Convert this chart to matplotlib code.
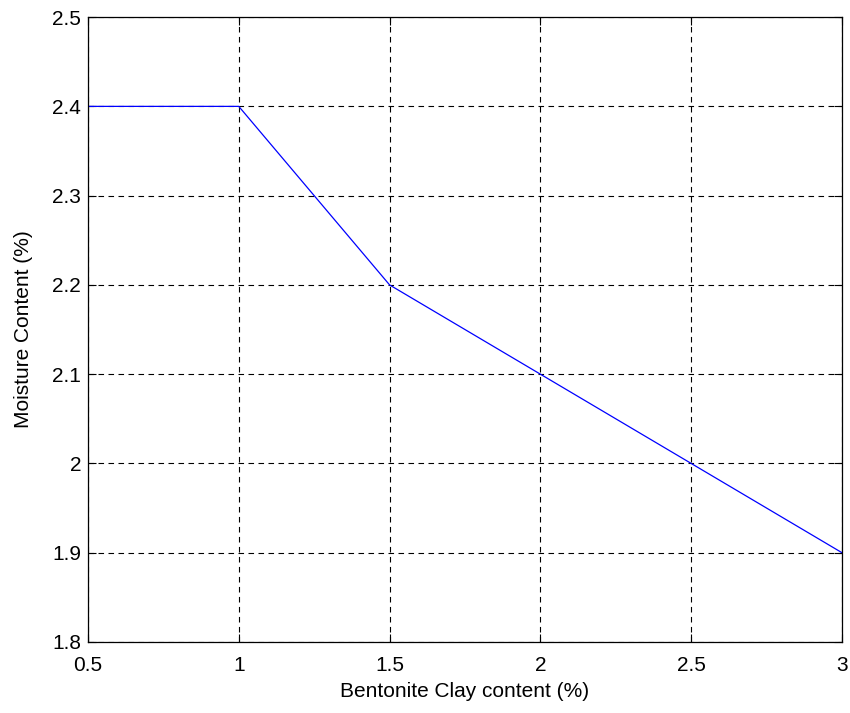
import matplotlib.pyplot as plt

# bentonite clay content vs moisture content
clay = [0.5, 1.0, 1.5, 2.0, 2.5, 3.0]
moisture = [2.4, 2.4, 2.2, 2.1, 2.0, 1.9]

xticks = [0.5, 1, 1.5, 2, 2.5, 3]
yticks = [1.8, 1.9, 2.0, 2.1, 2.2, 2.3, 2.4, 2.5]
xticklabels = ['0.5', '1', '1.5', '2', '2.5', '3']
yticklabels = ['1.8', '1.9', '2', '2.1', '2.2', '2.3', '2.4', '2.5']

plt.rcParams['font.family'] = ['Liberation Sans', 'DejaVu Sans']

fig = plt.figure(figsize=(8.5, 7.13), dpi=100)
ax = fig.add_axes([0.1035, 0.0996, 0.8871, 0.8764])

ax.plot(clay, moisture, color='#0000ff', lw=0.9)

ax.set_xlim(0.5, 3)
ax.set_ylim(1.8, 2.5)
ax.set_xticks(xticks)
ax.set_xticklabels(xticklabels)
ax.set_yticks(yticks)
ax.set_yticklabels(yticklabels)

ax.grid(True, color='black', linestyle=(0, (5, 4)), lw=0.8)
ax.tick_params(direction='in', length=6, width=0.8, top=True, right=True,
               labelsize=15, colors='black')
ax.tick_params(axis='x', pad=10)
ax.tick_params(axis='y', pad=5)
for s in ax.spines.values():
    s.set_linewidth(0.9)

ax.set_xlabel('Bentonite Clay content (%)', fontsize=15, labelpad=5)
ax.set_ylabel('Moisture Content (%)', fontsize=15, labelpad=14)

plt.savefig('out.png', dpi=100)
